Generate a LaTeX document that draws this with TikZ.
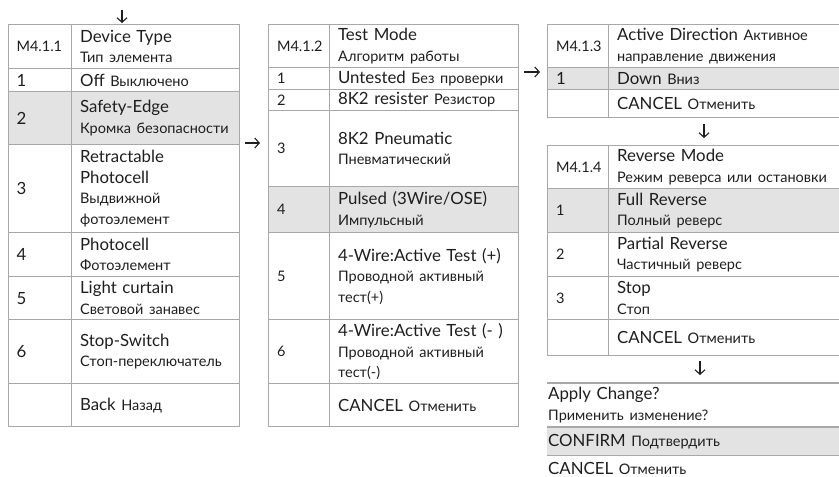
\documentclass[tikz,border=0pt]{standalone}
\usepackage{fontspec}
\setmainfont{Lato}
\usetikzlibrary{arrows.meta}
\definecolor{linegray}{HTML}{A8A8A8}
\definecolor{rowshade}{HTML}{E3E3E3}
\definecolor{inkdark}{HTML}{1E1E1E}
\newcommand{\mainsz}{\fontsize{16.8}{20.5}\selectfont}
\newcommand{\smallsz}{\fontsize{14.5}{20.5}\selectfont}
\tikzset{
  cell/.style={draw=linegray, line width=1.2pt, anchor=north west, inner xsep=8.5pt,
    inner ysep=0pt, align=left, text=inkdark, font=\mainsz},
  num1/.style={cell, text width=46.5pt},
  txt1/.style={cell, text width=150.5pt},
  num2/.style={cell, text width=44pt},
  txt2/.style={cell, text width=172pt},
  num3/.style={cell, text width=44pt},
  txt3/.style={cell, text width=220pt},
  plain/.style={anchor=north west, inner xsep=1pt, inner ysep=0pt, align=left,
    text=inkdark, font=\mainsz, text width=290pt},
  rule/.style={draw=linegray, line width=1.2pt},
  shade/.style={fill=rowshade},
  flow/.style={draw=inkdark, line width=1.1pt, -{Straight Barb[length=4.5pt,width=10pt]}}
}
\begin{document}
\begin{tikzpicture}[x=1pt,y=-1pt]
        \useasboundingbox (0,0) rectangle (839,477);

        % M4.1.1 device type
        \node[num1,minimum height=44pt,font=\smallsz] (dn0) at (7.5,24) {M4.1.1};
        \node[txt1,minimum height=44pt] (dt0) at (71,24) {Device Type\\\smallsz Тип элемента};
        \node[num1,minimum height=23pt] (dn1) at (7.5,68) {1};
        \node[txt1,minimum height=23pt] (dt1) at (71,68) {Off {\smallsz Выключено}};
        \node[num1,shade,minimum height=53pt] (dn2) at (7.5,91) {2};
        \node[txt1,shade,minimum height=53pt] (dt2) at (71,91) {Safety-Edge\\\smallsz Кромка безопасности};
        \node[num1,minimum height=88pt] (dn3) at (7.5,144) {3};
        \node[txt1,minimum height=88pt] (dt3) at (71,144) {Retractable\\Photocell\\\smallsz Выдвижной\\фотоэлемент};
        \node[num1,minimum height=44pt] (dn4) at (7.5,232) {4};
        \node[txt1,minimum height=44pt] (dt4) at (71,232) {Photocell\\\smallsz Фотоэлемент};
        \node[num1,minimum height=43pt] (dn5) at (7.5,276) {5};
        \node[txt1,minimum height=43pt] (dt5) at (71,276) {Light curtain\\\smallsz Световой занавес};
        \node[num1,minimum height=64pt] (dn6) at (7.5,319) {6};
        \node[txt1,minimum height=64pt] (dt6) at (71,319) {Stop-Switch\\\smallsz Стоп-переключатель};
        \node[num1,minimum height=43pt] (dn7) at (7.5,383) {};
        \node[txt1,minimum height=43pt] (dt7) at (71,383) {Back {\smallsz Назад}};

        % M4.1.2 test mode
        \node[num2,minimum height=43pt,font=\smallsz] (mn0) at (268,24) {M4.1.2};
        \node[txt2,minimum height=43pt] (mt0) at (329,24) {Test Mode\\\smallsz Алгоритм работы};
        \node[num2,minimum height=22pt,font=\smallsz] (mn1) at (268,67) {1};
        \node[txt2,minimum height=22pt] (mt1) at (329,67) {Untested {\smallsz Без проверки}};
        \node[num2,minimum height=21pt,font=\smallsz] (mn2) at (268,89) {2};
        \node[txt2,minimum height=21pt] (mt2) at (329,89) {8K2 resister {\smallsz Резистор}};
        \node[num2,minimum height=76pt,font=\smallsz] (mn3) at (268,110) {3};
        \node[txt2,minimum height=76pt] (mt3) at (329,110) {8K2 Pneumatic\\\smallsz Пневматический};
        \node[num2,shade,minimum height=46pt,font=\smallsz] (mn4) at (268,186) {4};
        \node[txt2,shade,minimum height=46pt] (mt4) at (329,186) {Pulsed (3Wire/OSE)\\\smallsz Импульсный};
        \node[num2,minimum height=87pt,font=\smallsz] (mn5) at (268,232) {5};
        \node[txt2,minimum height=87pt] (mt5) at (329,232) {4-Wire:Active Test (+)\\\smallsz Проводной активный\\тест(+)};
        \node[num2,minimum height=64pt,font=\smallsz] (mn6) at (268,319) {6};
        \node[txt2,minimum height=64pt] (mt6) at (329,319) {4-Wire:Active Test (- )\\\smallsz Проводной активный\\тест(-)};
        \node[num2,minimum height=43pt] (mn7) at (268,383) {};
        \node[txt2,minimum height=43pt] (mt7) at (329,383) {CANCEL {\smallsz Отменить}};

        % M4.1.3 active direction
        \node[num3,minimum height=43pt,font=\smallsz] (an0) at (547,24) {M4.1.3};
        \node[txt3,minimum height=43pt] (at0) at (608,24) {Active Direction {\smallsz Активное}\\\smallsz направление движения};
        \node[num3,shade,minimum height=22pt] (an1) at (547,67) {1};
        \node[txt3,shade,minimum height=22pt] (at1) at (608,67) {Down {\smallsz Вниз}};
        \node[num3,minimum height=28pt] (an2) at (547,89) {};
        \node[txt3,minimum height=28pt] (at2) at (608,89) {CANCEL {\smallsz Отменить}};

        % M4.1.4 reverse mode
        \node[num3,minimum height=43pt,font=\smallsz] (rn0) at (547,145) {M4.1.4};
        \node[txt3,minimum height=43pt] (rt0) at (608,145) {Reverse Mode\\\smallsz Режим реверса или остановки};
        \node[num3,shade,minimum height=44pt,font=\smallsz] (rn1) at (547,188) {1};
        \node[txt3,shade,minimum height=44pt] (rt1) at (608,188) {Full Reverse\\\smallsz Полный реверс};
        \node[num3,minimum height=44pt,font=\smallsz] (rn2) at (547,232) {2};
        \node[txt3,minimum height=44pt] (rt2) at (608,232) {Partial Reverse\\\smallsz Частичный реверс};
        \node[num3,minimum height=43pt,font=\smallsz] (rn3) at (547,276) {3};
        \node[txt3,minimum height=43pt] (rt3) at (608,276) {Stop\\\smallsz Стоп};
        \node[num3,minimum height=36pt] (rn4) at (547,319) {};
        \node[txt3,minimum height=36pt] (rt4) at (608,319) {CANCEL {\smallsz Отменить}};

        % apply change
        \node[plain,minimum height=44pt] (ap0) at (547,383) {Apply Change?\\\smallsz Применить изменение?};
        \node[plain,shade,minimum height=28pt] (ap1) at (547,427) {CONFIRM {\smallsz Подтвердить}};
        \node[plain,minimum height=26pt] (ap2) at (547,455) {CANCEL {\smallsz Отменить}};
        \draw[rule] (ap0.north west) -- (ap0.north east);
        \draw[rule] (ap1.north west) -- (ap1.north east);
        \draw[rule] (ap1.south west) -- (ap1.south east);

        % arrows
        \coordinate (in0) at (122,10);
        \coordinate (in1) at (122,23);
        \coordinate (ri0) at (245,143);
        \coordinate (ri1) at (260,143);
        \coordinate (rj0) at (524,72);
        \coordinate (rj1) at (540,72);
        \coordinate (dw0) at (704,124);
        \coordinate (dw1) at (704,138);
        \coordinate (dx0) at (700,361);
        \coordinate (dx1) at (700,375);
        \draw[flow] (in0) -- (in1);
        \draw[flow] (ri0) -- (ri1);
        \draw[flow] (rj0) -- (rj1);
        \draw[flow] (dw0) -- (dw1);
        \draw[flow] (dx0) -- (dx1);
\end{tikzpicture}
\end{document}
